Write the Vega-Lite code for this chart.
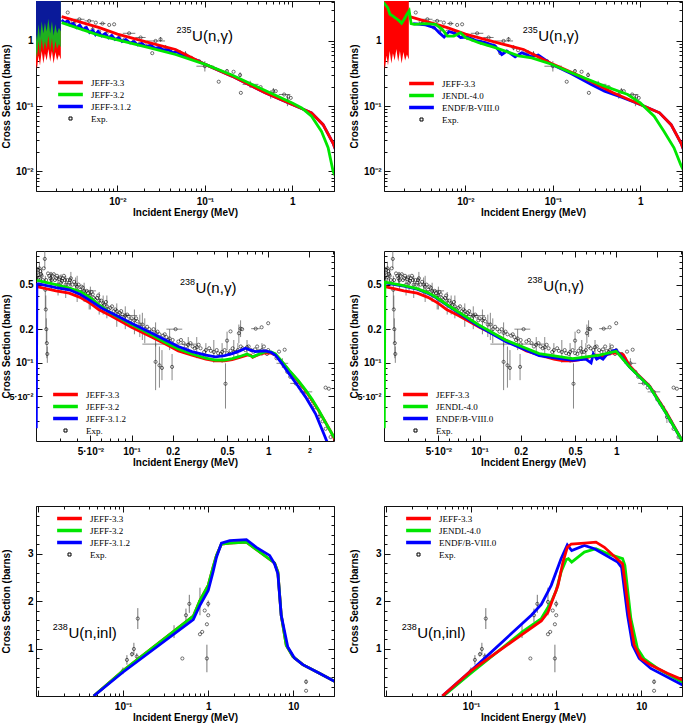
{
"$schema": "https://vega.github.io/schema/vega-lite/v6.json",
"padding": 0,
"background": "white",
"columns": 2,
"spacing": {"row": 32, "column": 13},
"resolve": {"scale": {"color": "independent"}, "legend": {"color": "independent"}},
"config": {
  "view": {"stroke": "#111", "strokeWidth": 1},
  "axis": {"domain": false, "grid": false, "tickColor": "#111", "tickWidth": 1, "labelFont": "Liberation Sans", "labelFontWeight": "bold", "labelFontSize": 10, "labelColor": "#000", "titleFont": "Liberation Sans", "titleFontWeight": "bold", "titleFontSize": 10, "titleColor": "#000", "labelOverlap": false, "labelFlush": false, "labelBound": false},
  "text": {"font": "Liberation Sans", "color": "#000"}
},
"datasets": {
  "p1res": [
    {"e":0.00115,"lo":0.5,"k":"JEFF-3.3"},{"e":0.0012,"lo":0.37,"k":"JEFF-3.3"},{"e":0.00125,"lo":0.6,"k":"JEFF-3.3"},{"e":0.0013,"lo":0.42,"k":"JEFF-3.3"},{"e":0.00136,"lo":0.7,"k":"JEFF-3.3"},{"e":0.00142,"lo":0.45,"k":"JEFF-3.3"},{"e":0.00148,"lo":0.65,"k":"JEFF-3.3"},{"e":0.00155,"lo":0.5,"k":"JEFF-3.3"},{"e":0.00162,"lo":0.75,"k":"JEFF-3.3"},{"e":0.0017,"lo":0.48,"k":"JEFF-3.3"},{"e":0.00178,"lo":0.7,"k":"JEFF-3.3"},{"e":0.00186,"lo":0.45,"k":"JEFF-3.3"},{"e":0.00195,"lo":0.68,"k":"JEFF-3.3"},{"e":0.00204,"lo":0.5,"k":"JEFF-3.3"},{"e":0.00214,"lo":0.62,"k":"JEFF-3.3"},{"e":0.00225,"lo":0.52,"k":"JEFF-3.3"},
    {"e":0.00115,"lo":0.8,"k":"JEFF-3.2"},{"e":0.0012,"lo":0.55,"k":"JEFF-3.2"},{"e":0.00125,"lo":1.0,"k":"JEFF-3.2"},{"e":0.0013,"lo":0.6,"k":"JEFF-3.2"},{"e":0.00136,"lo":1.1,"k":"JEFF-3.2"},{"e":0.00142,"lo":0.7,"k":"JEFF-3.2"},{"e":0.00148,"lo":1.0,"k":"JEFF-3.2"},{"e":0.00155,"lo":0.75,"k":"JEFF-3.2"},{"e":0.00162,"lo":1.2,"k":"JEFF-3.2"},{"e":0.0017,"lo":0.7,"k":"JEFF-3.2"},{"e":0.00178,"lo":1.1,"k":"JEFF-3.2"},{"e":0.00186,"lo":0.65,"k":"JEFF-3.2"},{"e":0.00195,"lo":1.0,"k":"JEFF-3.2"},{"e":0.00204,"lo":0.75,"k":"JEFF-3.2"},{"e":0.00214,"lo":0.9,"k":"JEFF-3.2"},{"e":0.00225,"lo":0.8,"k":"JEFF-3.2"},
    {"e":0.00115,"lo":1.5,"k":"JEFF-3.1.2"},{"e":0.0012,"lo":1.0,"k":"JEFF-3.1.2"},{"e":0.00125,"lo":1.8,"k":"JEFF-3.1.2"},{"e":0.0013,"lo":1.1,"k":"JEFF-3.1.2"},{"e":0.00136,"lo":2.0,"k":"JEFF-3.1.2"},{"e":0.00142,"lo":1.3,"k":"JEFF-3.1.2"},{"e":0.00148,"lo":1.9,"k":"JEFF-3.1.2"},{"e":0.00155,"lo":1.4,"k":"JEFF-3.1.2"},{"e":0.00162,"lo":2.2,"k":"JEFF-3.1.2"},{"e":0.0017,"lo":1.3,"k":"JEFF-3.1.2"},{"e":0.00178,"lo":2.0,"k":"JEFF-3.1.2"},{"e":0.00186,"lo":1.2,"k":"JEFF-3.1.2"},{"e":0.00195,"lo":1.8,"k":"JEFF-3.1.2"},{"e":0.00204,"lo":1.3,"k":"JEFF-3.1.2"},{"e":0.00214,"lo":1.6,"k":"JEFF-3.1.2"},{"e":0.00225,"lo":1.4,"k":"JEFF-3.1.2"}
  ],
  "p1lines": [
    {"e":0.0023,"s":2.1,"k":"JEFF-3.1.2"},{"e":0.0025,"s":1.9,"k":"JEFF-3.1.2"},{"e":0.0027,"s":2.05,"k":"JEFF-3.1.2"},{"e":0.0029,"s":1.75,"k":"JEFF-3.1.2"},{"e":0.0031,"s":1.85,"k":"JEFF-3.1.2"},{"e":0.0034,"s":1.6,"k":"JEFF-3.1.2"},{"e":0.0037,"s":1.75,"k":"JEFF-3.1.2"},{"e":0.004,"s":1.5,"k":"JEFF-3.1.2"},{"e":0.0044,"s":1.6,"k":"JEFF-3.1.2"},{"e":0.0048,"s":1.35,"k":"JEFF-3.1.2"},{"e":0.0052,"s":1.45,"k":"JEFF-3.1.2"},{"e":0.0056,"s":1.25,"k":"JEFF-3.1.2"},{"e":0.006,"s":1.4,"k":"JEFF-3.1.2"},{"e":0.0066,"s":1.2,"k":"JEFF-3.1.2"},{"e":0.0072,"s":1.3,"k":"JEFF-3.1.2"},{"e":0.0079,"s":1.12,"k":"JEFF-3.1.2"},{"e":0.0086,"s":1.22,"k":"JEFF-3.1.2"},{"e":0.0094,"s":1.05,"k":"JEFF-3.1.2"},{"e":0.0103,"s":1.12,"k":"JEFF-3.1.2"},{"e":0.0113,"s":0.98,"k":"JEFF-3.1.2"},{"e":0.0125,"s":1.05,"k":"JEFF-3.1.2"},{"e":0.014,"s":0.93,"k":"JEFF-3.1.2"},{"e":0.0155,"s":0.98,"k":"JEFF-3.1.2"},{"e":0.017,"s":0.87,"k":"JEFF-3.1.2"},{"e":0.019,"s":0.92,"k":"JEFF-3.1.2"},{"e":0.021,"s":0.82,"k":"JEFF-3.1.2"},{"e":0.024,"s":0.86,"k":"JEFF-3.1.2"},{"e":0.027,"s":0.77,"k":"JEFF-3.1.2"},{"e":0.03,"s":0.8,"k":"JEFF-3.1.2"},{"e":0.034,"s":0.72,"k":"JEFF-3.1.2"},{"e":0.038,"s":0.74,"k":"JEFF-3.1.2"},{"e":0.043,"s":0.66,"k":"JEFF-3.1.2"},{"e":0.048,"s":0.68,"k":"JEFF-3.1.2"},{"e":0.055,"s":0.6,"k":"JEFF-3.1.2"},{"e":0.062,"s":0.6,"k":"JEFF-3.1.2"},{"e":0.07,"s":0.54,"k":"JEFF-3.1.2"},{"e":0.08,"s":0.51,"k":"JEFF-3.1.2"},{"e":0.09,"s":0.47,"k":"JEFF-3.1.2"},{"e":0.101,"s":0.437,"k":"JEFF-3.1.2"},{"e":0.204,"s":0.289,"k":"JEFF-3.1.2"},{"e":0.489,"s":0.16,"k":"JEFF-3.1.2"},{"e":1.0,"s":0.106,"k":"JEFF-3.1.2"},{"e":1.66,"s":0.079,"k":"JEFF-3.1.2"},{"e":2.25,"s":0.052,"k":"JEFF-3.1.2"},{"e":2.93,"s":0.027,"k":"JEFF-3.1.2"},{"e":3.1,"s":0.022,"k":"JEFF-3.1.2"},
    {"e":0.0023,"s":2.36,"k":"JEFF-3.3"},{"e":0.0062,"s":1.6,"k":"JEFF-3.3"},{"e":0.01,"s":1.27,"k":"JEFF-3.3"},{"e":0.0229,"s":0.94,"k":"JEFF-3.3"},{"e":0.0462,"s":0.74,"k":"JEFF-3.3"},{"e":0.06,"s":0.62,"k":"JEFF-3.3"},{"e":0.101,"s":0.437,"k":"JEFF-3.3"},{"e":0.204,"s":0.289,"k":"JEFF-3.3"},{"e":0.489,"s":0.16,"k":"JEFF-3.3"},{"e":1.0,"s":0.106,"k":"JEFF-3.3"},{"e":1.66,"s":0.079,"k":"JEFF-3.3"},{"e":2.25,"s":0.052,"k":"JEFF-3.3"},{"e":2.93,"s":0.027,"k":"JEFF-3.3"},{"e":3.1,"s":0.022,"k":"JEFF-3.3"},
    {"e":0.0023,"s":1.91,"k":"JEFF-3.2"},{"e":0.0062,"s":1.22,"k":"JEFF-3.2"},{"e":0.01,"s":1.04,"k":"JEFF-3.2"},{"e":0.0229,"s":0.79,"k":"JEFF-3.2"},{"e":0.0462,"s":0.62,"k":"JEFF-3.2"},{"e":0.101,"s":0.437,"k":"JEFF-3.2"},{"e":0.204,"s":0.3,"k":"JEFF-3.2"},{"e":0.489,"s":0.174,"k":"JEFF-3.2"},{"e":1.0,"s":0.112,"k":"JEFF-3.2"},{"e":1.28,"s":0.094,"k":"JEFF-3.2"},{"e":1.66,"s":0.07,"k":"JEFF-3.2"},{"e":2.16,"s":0.041,"k":"JEFF-3.2"},{"e":2.57,"s":0.023,"k":"JEFF-3.2"},{"e":2.93,"s":0.01,"k":"JEFF-3.2"},{"e":3.1,"s":0.0085,"k":"JEFF-3.2"}
  ],
  "p2lines": [
    {"e":0.00252,"s":1.85,"k":"ENDF/B-VIII.0"},{"e":0.0035,"s":1.76,"k":"ENDF/B-VIII.0"},{"e":0.0044,"s":1.6,"k":"ENDF/B-VIII.0"},{"e":0.005,"s":1.34,"k":"ENDF/B-VIII.0"},{"e":0.0057,"s":1.15,"k":"ENDF/B-VIII.0"},{"e":0.0065,"s":1.39,"k":"ENDF/B-VIII.0"},{"e":0.0077,"s":1.3,"k":"ENDF/B-VIII.0"},{"e":0.0088,"s":1.13,"k":"ENDF/B-VIII.0"},{"e":0.0104,"s":1.15,"k":"ENDF/B-VIII.0"},{"e":0.013,"s":1.02,"k":"ENDF/B-VIII.0"},{"e":0.0169,"s":0.94,"k":"ENDF/B-VIII.0"},{"e":0.0219,"s":0.84,"k":"ENDF/B-VIII.0"},{"e":0.0261,"s":0.62,"k":"ENDF/B-VIII.0"},{"e":0.0297,"s":0.7,"k":"ENDF/B-VIII.0"},{"e":0.037,"s":0.57,"k":"ENDF/B-VIII.0"},{"e":0.044,"s":0.66,"k":"ENDF/B-VIII.0"},{"e":0.0573,"s":0.57,"k":"ENDF/B-VIII.0"},{"e":0.068,"s":0.61,"k":"ENDF/B-VIII.0"},{"e":0.0966,"s":0.44,"k":"ENDF/B-VIII.0"},{"e":0.163,"s":0.315,"k":"ENDF/B-VIII.0"},{"e":0.275,"s":0.215,"k":"ENDF/B-VIII.0"},{"e":0.39,"s":0.17,"k":"ENDF/B-VIII.0"},{"e":0.6,"s":0.138,"k":"ENDF/B-VIII.0"},{"e":1.0,"s":0.106,"k":"ENDF/B-VIII.0"},{"e":1.66,"s":0.079,"k":"ENDF/B-VIII.0"},{"e":2.25,"s":0.052,"k":"ENDF/B-VIII.0"},{"e":2.93,"s":0.027,"k":"ENDF/B-VIII.0"},{"e":3.1,"s":0.022,"k":"ENDF/B-VIII.0"},
    {"e":0.0023,"s":2.36,"k":"JEFF-3.3"},{"e":0.0062,"s":1.6,"k":"JEFF-3.3"},{"e":0.01,"s":1.27,"k":"JEFF-3.3"},{"e":0.0229,"s":0.94,"k":"JEFF-3.3"},{"e":0.0462,"s":0.74,"k":"JEFF-3.3"},{"e":0.06,"s":0.62,"k":"JEFF-3.3"},{"e":0.101,"s":0.437,"k":"JEFF-3.3"},{"e":0.204,"s":0.289,"k":"JEFF-3.3"},{"e":0.489,"s":0.16,"k":"JEFF-3.3"},{"e":1.0,"s":0.106,"k":"JEFF-3.3"},{"e":1.66,"s":0.079,"k":"JEFF-3.3"},{"e":2.25,"s":0.052,"k":"JEFF-3.3"},{"e":2.93,"s":0.027,"k":"JEFF-3.3"},{"e":3.1,"s":0.022,"k":"JEFF-3.3"},
    {"e":0.00115,"s":3.9,"k":"JENDL-4.0"},{"e":0.00129,"s":3.25,"k":"JENDL-4.0"},{"e":0.00137,"s":2.57,"k":"JENDL-4.0"},{"e":0.00147,"s":2.42,"k":"JENDL-4.0"},{"e":0.0016,"s":2.23,"k":"JENDL-4.0"},{"e":0.00175,"s":2.03,"k":"JENDL-4.0"},{"e":0.00186,"s":1.87,"k":"JENDL-4.0"},{"e":0.00199,"s":2.15,"k":"JENDL-4.0"},{"e":0.00214,"s":2.57,"k":"JENDL-4.0"},{"e":0.00227,"s":2.9,"k":"JENDL-4.0"},{"e":0.00239,"s":1.85,"k":"JENDL-4.0"},{"e":0.00259,"s":1.8,"k":"JENDL-4.0"},{"e":0.00351,"s":1.85,"k":"JENDL-4.0"},{"e":0.00456,"s":1.8,"k":"JENDL-4.0"},{"e":0.00543,"s":1.51,"k":"JENDL-4.0"},{"e":0.00619,"s":1.19,"k":"JENDL-4.0"},{"e":0.00736,"s":1.19,"k":"JENDL-4.0"},{"e":0.00877,"s":1.34,"k":"JENDL-4.0"},{"e":0.01,"s":1.13,"k":"JENDL-4.0"},{"e":0.0142,"s":0.94,"k":"JENDL-4.0"},{"e":0.0219,"s":0.79,"k":"JENDL-4.0"},{"e":0.0285,"s":0.7,"k":"JENDL-4.0"},{"e":0.0404,"s":0.59,"k":"JENDL-4.0"},{"e":0.0573,"s":0.55,"k":"JENDL-4.0"},{"e":0.0966,"s":0.44,"k":"JENDL-4.0"},{"e":0.163,"s":0.326,"k":"JENDL-4.0"},{"e":0.39,"s":0.203,"k":"JENDL-4.0"},{"e":0.718,"s":0.151,"k":"JENDL-4.0"},{"e":1.0,"s":0.112,"k":"JENDL-4.0"},{"e":1.44,"s":0.07,"k":"JENDL-4.0"},{"e":1.87,"s":0.041,"k":"JENDL-4.0"},{"e":2.43,"s":0.023,"k":"JENDL-4.0"},{"e":2.9,"s":0.0127,"k":"JENDL-4.0"},{"e":3.1,"s":0.0105,"k":"JENDL-4.0"}
  ],
  "u235exp": [
    {"e":0.0027,"s":2.73},{"e":0.00308,"s":1.98},{"e":0.0032,"s":1.85,"slo":1.7,"shi":2.0},{"e":0.00367,"s":2.15,"elo":0.0032,"ehi":0.0042},{"e":0.00436,"s":1.6},{"e":0.00475,"s":2.03,"elo":0.0042,"ehi":0.0054},{"e":0.0052,"s":1.5,"slo":1.35,"shi":1.65},{"e":0.00566,"s":1.91},{"e":0.00618,"s":1.39},{"e":0.00674,"s":1.85,"elo":0.0062,"ehi":0.0073},{"e":0.0075,"s":1.3,"slo":1.2,"shi":1.42},{"e":0.00804,"s":1.76},{"e":0.00916,"s":1.8},{"e":0.01045,"s":1.13,"slo":1.03,"shi":1.24},{"e":0.012,"s":1.05},{"e":0.0136,"s":1.31,"elo":0.0115,"ehi":0.016},{"e":0.015,"s":0.95,"slo":0.88,"shi":1.03},{"e":0.0177,"s":0.89},{"e":0.0184,"s":1.13,"elo":0.016,"ehi":0.021},{"e":0.021,"s":0.85},{"e":0.025,"s":0.65},{"e":0.0273,"s":1.0,"elo":0.0215,"ehi":0.035},{"e":0.0311,"s":1.06,"slo":0.98,"shi":1.15},{"e":0.0355,"s":0.79,"slo":0.72,"shi":0.86},{"e":0.04,"s":0.72},{"e":0.0473,"s":0.7},{"e":0.052,"s":0.66,"slo":0.6,"shi":0.72},{"e":0.06,"s":0.62,"slo":0.55,"shi":0.7},{"e":0.07,"s":0.55},{"e":0.086,"s":0.49},{"e":0.1,"s":0.41,"elo":0.08,"ehi":0.127,"slo":0.34,"shi":0.49},{"e":0.144,"s":0.237},{"e":0.179,"s":0.345,"slo":0.32,"shi":0.37},{"e":0.213,"s":0.337},{"e":0.253,"s":0.3,"slo":0.28,"shi":0.33},{"e":0.258,"s":0.16},{"e":0.33,"s":0.216,"elo":0.27,"ehi":0.41,"slo":0.19,"shi":0.245},{"e":0.434,"s":0.196},{"e":0.567,"s":0.151,"slo":0.13,"shi":0.175},{"e":0.608,"s":0.17,"slo":0.155,"shi":0.19},{"e":0.647,"s":0.17},{"e":0.807,"s":0.151,"elo":0.7,"ehi":0.95},{"e":0.88,"s":0.12,"slo":0.1,"shi":0.145},{"e":0.9,"s":0.14},{"e":0.96,"s":0.134}
  ],
  "p3lines": [
    {"e":0.0203,"s":0.48,"k":"JEFF-3.3"},{"e":0.028,"s":0.44,"k":"JEFF-3.3"},{"e":0.035,"s":0.42,"k":"JEFF-3.3"},{"e":0.042,"s":0.385,"k":"JEFF-3.3"},{"e":0.05,"s":0.34,"k":"JEFF-3.3"},{"e":0.0574,"s":0.3,"k":"JEFF-3.3"},{"e":0.07,"s":0.265,"k":"JEFF-3.3"},{"e":0.1,"s":0.208,"k":"JEFF-3.3"},{"e":0.14,"s":0.17,"k":"JEFF-3.3"},{"e":0.177,"s":0.147,"k":"JEFF-3.3"},{"e":0.22,"s":0.128,"k":"JEFF-3.3"},{"e":0.277,"s":0.117,"k":"JEFF-3.3"},{"e":0.35,"s":0.108,"k":"JEFF-3.3"},{"e":0.411,"s":0.104,"k":"JEFF-3.3"},{"e":0.48,"s":0.104,"k":"JEFF-3.3"},{"e":0.545,"s":0.107,"k":"JEFF-3.3"},{"e":0.62,"s":0.112,"k":"JEFF-3.3"},{"e":0.7,"s":0.117,"k":"JEFF-3.3"},{"e":0.745,"s":0.117,"k":"JEFF-3.3"},{"e":0.77,"s":0.112,"k":"JEFF-3.3"},{"e":0.807,"s":0.115,"k":"JEFF-3.3"},{"e":0.88,"s":0.12,"k":"JEFF-3.3"},{"e":0.955,"s":0.123,"k":"JEFF-3.3"},{"e":1.05,"s":0.122,"k":"JEFF-3.3"},{"e":1.13,"s":0.118,"k":"JEFF-3.3"},{"e":1.25,"s":0.103,"k":"JEFF-3.3"},{"e":1.42,"s":0.085,"k":"JEFF-3.3"},{"e":1.65,"s":0.069,"k":"JEFF-3.3"},{"e":1.88,"s":0.056,"k":"JEFF-3.3"},{"e":2.1,"s":0.046,"k":"JEFF-3.3"},{"e":2.35,"s":0.037,"k":"JEFF-3.3"},{"e":2.6,"s":0.03,"k":"JEFF-3.3"},{"e":2.94,"s":0.023,"k":"JEFF-3.3"},{"e":3.1,"s":0.02,"k":"JEFF-3.3"},
    {"e":0.0203,"s":0.545,"k":"JEFF-3.2"},{"e":0.028,"s":0.5,"k":"JEFF-3.2"},{"e":0.035,"s":0.465,"k":"JEFF-3.2"},{"e":0.042,"s":0.435,"k":"JEFF-3.2"},{"e":0.0485,"s":0.39,"k":"JEFF-3.2"},{"e":0.057,"s":0.335,"k":"JEFF-3.2"},{"e":0.07,"s":0.28,"k":"JEFF-3.2"},{"e":0.1,"s":0.22,"k":"JEFF-3.2"},{"e":0.14,"s":0.178,"k":"JEFF-3.2"},{"e":0.177,"s":0.152,"k":"JEFF-3.2"},{"e":0.22,"s":0.133,"k":"JEFF-3.2"},{"e":0.277,"s":0.12,"k":"JEFF-3.2"},{"e":0.35,"s":0.11,"k":"JEFF-3.2"},{"e":0.411,"s":0.106,"k":"JEFF-3.2"},{"e":0.48,"s":0.106,"k":"JEFF-3.2"},{"e":0.545,"s":0.109,"k":"JEFF-3.2"},{"e":0.62,"s":0.114,"k":"JEFF-3.2"},{"e":0.7,"s":0.12,"k":"JEFF-3.2"},{"e":0.74,"s":0.116,"k":"JEFF-3.2"},{"e":0.77,"s":0.113,"k":"JEFF-3.2"},{"e":0.807,"s":0.116,"k":"JEFF-3.2"},{"e":0.88,"s":0.121,"k":"JEFF-3.2"},{"e":0.955,"s":0.126,"k":"JEFF-3.2"},{"e":1.05,"s":0.125,"k":"JEFF-3.2"},{"e":1.13,"s":0.12,"k":"JEFF-3.2"},{"e":1.25,"s":0.104,"k":"JEFF-3.2"},{"e":1.42,"s":0.086,"k":"JEFF-3.2"},{"e":1.65,"s":0.07,"k":"JEFF-3.2"},{"e":1.88,"s":0.057,"k":"JEFF-3.2"},{"e":2.1,"s":0.047,"k":"JEFF-3.2"},{"e":2.35,"s":0.0375,"k":"JEFF-3.2"},{"e":2.6,"s":0.03,"k":"JEFF-3.2"},{"e":2.94,"s":0.023,"k":"JEFF-3.2"},{"e":3.1,"s":0.021,"k":"JEFF-3.2"},
    {"e":0.0201,"s":0.026,"k":"JEFF-3.1.2"},{"e":0.0203,"s":0.5,"k":"JEFF-3.1.2"},{"e":0.0207,"s":0.51,"k":"JEFF-3.1.2"},{"e":0.028,"s":0.47,"k":"JEFF-3.1.2"},{"e":0.035,"s":0.45,"k":"JEFF-3.1.2"},{"e":0.042,"s":0.41,"k":"JEFF-3.1.2"},{"e":0.05,"s":0.36,"k":"JEFF-3.1.2"},{"e":0.06,"s":0.31,"k":"JEFF-3.1.2"},{"e":0.075,"s":0.27,"k":"JEFF-3.1.2"},{"e":0.1,"s":0.226,"k":"JEFF-3.1.2"},{"e":0.14,"s":0.185,"k":"JEFF-3.1.2"},{"e":0.177,"s":0.16,"k":"JEFF-3.1.2"},{"e":0.22,"s":0.14,"k":"JEFF-3.1.2"},{"e":0.277,"s":0.126,"k":"JEFF-3.1.2"},{"e":0.35,"s":0.117,"k":"JEFF-3.1.2"},{"e":0.411,"s":0.113,"k":"JEFF-3.1.2"},{"e":0.48,"s":0.116,"k":"JEFF-3.1.2"},{"e":0.545,"s":0.121,"k":"JEFF-3.1.2"},{"e":0.62,"s":0.128,"k":"JEFF-3.1.2"},{"e":0.682,"s":0.135,"k":"JEFF-3.1.2"},{"e":0.74,"s":0.13,"k":"JEFF-3.1.2"},{"e":0.807,"s":0.126,"k":"JEFF-3.1.2"},{"e":0.88,"s":0.127,"k":"JEFF-3.1.2"},{"e":0.955,"s":0.128,"k":"JEFF-3.1.2"},{"e":1.05,"s":0.124,"k":"JEFF-3.1.2"},{"e":1.13,"s":0.117,"k":"JEFF-3.1.2"},{"e":1.25,"s":0.1,"k":"JEFF-3.1.2"},{"e":1.42,"s":0.08,"k":"JEFF-3.1.2"},{"e":1.65,"s":0.062,"k":"JEFF-3.1.2"},{"e":1.88,"s":0.0494,"k":"JEFF-3.1.2"},{"e":2.22,"s":0.035,"k":"JEFF-3.1.2"},{"e":2.56,"s":0.023,"k":"JEFF-3.1.2"},{"e":2.8,"s":0.0175,"k":"JEFF-3.1.2"},{"e":3.05,"s":0.013,"k":"JEFF-3.1.2"}
  ],
  "p4lines": [
    {"e":0.0203,"s":0.48,"k":"JEFF-3.3"},{"e":0.028,"s":0.44,"k":"JEFF-3.3"},{"e":0.035,"s":0.42,"k":"JEFF-3.3"},{"e":0.042,"s":0.385,"k":"JEFF-3.3"},{"e":0.05,"s":0.34,"k":"JEFF-3.3"},{"e":0.0574,"s":0.3,"k":"JEFF-3.3"},{"e":0.07,"s":0.265,"k":"JEFF-3.3"},{"e":0.1,"s":0.208,"k":"JEFF-3.3"},{"e":0.14,"s":0.17,"k":"JEFF-3.3"},{"e":0.177,"s":0.147,"k":"JEFF-3.3"},{"e":0.22,"s":0.128,"k":"JEFF-3.3"},{"e":0.277,"s":0.117,"k":"JEFF-3.3"},{"e":0.35,"s":0.108,"k":"JEFF-3.3"},{"e":0.411,"s":0.104,"k":"JEFF-3.3"},{"e":0.48,"s":0.104,"k":"JEFF-3.3"},{"e":0.545,"s":0.107,"k":"JEFF-3.3"},{"e":0.62,"s":0.112,"k":"JEFF-3.3"},{"e":0.7,"s":0.117,"k":"JEFF-3.3"},{"e":0.745,"s":0.117,"k":"JEFF-3.3"},{"e":0.77,"s":0.112,"k":"JEFF-3.3"},{"e":0.807,"s":0.115,"k":"JEFF-3.3"},{"e":0.88,"s":0.12,"k":"JEFF-3.3"},{"e":0.955,"s":0.123,"k":"JEFF-3.3"},{"e":1.05,"s":0.122,"k":"JEFF-3.3"},{"e":1.13,"s":0.118,"k":"JEFF-3.3"},{"e":1.25,"s":0.095,"k":"JEFF-3.3"},{"e":1.42,"s":0.08,"k":"JEFF-3.3"},{"e":1.76,"s":0.062,"k":"JEFF-3.3"},{"e":2.33,"s":0.036,"k":"JEFF-3.3"},{"e":3.09,"s":0.0194,"k":"JEFF-3.3"},
    {"e":0.0203,"s":0.52,"k":"ENDF/B-VIII.0"},{"e":0.028,"s":0.485,"k":"ENDF/B-VIII.0"},{"e":0.035,"s":0.455,"k":"ENDF/B-VIII.0"},{"e":0.0424,"s":0.415,"k":"ENDF/B-VIII.0"},{"e":0.0475,"s":0.385,"k":"ENDF/B-VIII.0"},{"e":0.0595,"s":0.32,"k":"ENDF/B-VIII.0"},{"e":0.0989,"s":0.212,"k":"ENDF/B-VIII.0"},{"e":0.155,"s":0.155,"k":"ENDF/B-VIII.0"},{"e":0.273,"s":0.116,"k":"ENDF/B-VIII.0"},{"e":0.48,"s":0.105,"k":"ENDF/B-VIII.0"},{"e":0.6,"s":0.108,"k":"ENDF/B-VIII.0"},{"e":0.655,"s":0.1,"k":"ENDF/B-VIII.0"},{"e":0.68,"s":0.12,"k":"ENDF/B-VIII.0"},{"e":0.72,"s":0.108,"k":"ENDF/B-VIII.0"},{"e":0.76,"s":0.112,"k":"ENDF/B-VIII.0"},{"e":0.8,"s":0.108,"k":"ENDF/B-VIII.0"},{"e":0.85,"s":0.118,"k":"ENDF/B-VIII.0"},{"e":0.9,"s":0.122,"k":"ENDF/B-VIII.0"},{"e":0.95,"s":0.128,"k":"ENDF/B-VIII.0"},{"e":1.0,"s":0.13,"k":"ENDF/B-VIII.0"},{"e":1.25,"s":0.092,"k":"ENDF/B-VIII.0"},{"e":1.76,"s":0.061,"k":"ENDF/B-VIII.0"},{"e":2.33,"s":0.035,"k":"ENDF/B-VIII.0"},{"e":3.09,"s":0.0194,"k":"ENDF/B-VIII.0"},
    {"e":0.0201,"s":0.026,"k":"JENDL-4.0"},{"e":0.0203,"s":0.526,"k":"JENDL-4.0"},{"e":0.028,"s":0.49,"k":"JENDL-4.0"},{"e":0.035,"s":0.46,"k":"JENDL-4.0"},{"e":0.0424,"s":0.42,"k":"JENDL-4.0"},{"e":0.0475,"s":0.39,"k":"JENDL-4.0"},{"e":0.0595,"s":0.324,"k":"JENDL-4.0"},{"e":0.0989,"s":0.218,"k":"JENDL-4.0"},{"e":0.155,"s":0.16,"k":"JENDL-4.0"},{"e":0.273,"s":0.121,"k":"JENDL-4.0"},{"e":0.48,"s":0.109,"k":"JENDL-4.0"},{"e":0.754,"s":0.117,"k":"JENDL-4.0"},{"e":1.0,"s":0.127,"k":"JENDL-4.0"},{"e":1.25,"s":0.092,"k":"JENDL-4.0"},{"e":1.76,"s":0.061,"k":"JENDL-4.0"},{"e":2.33,"s":0.035,"k":"JENDL-4.0"},{"e":3.09,"s":0.0194,"k":"JENDL-4.0"}
  ],
  "u238gexp": [
    {"e":0.0205,"s":0.64,"slo":0.55,"shi":0.72},{"e":0.021,"s":0.58},{"e":0.0215,"s":0.66},{"e":0.022,"s":0.6,"slo":0.5,"shi":0.7},{"e":0.0228,"s":0.7},{"e":0.0232,"s":0.85,"slo":0.7,"shi":1.0},{"e":0.0234,"s":0.45,"slo":0.3,"shi":0.6},{"e":0.0236,"s":0.3,"slo":0.2,"shi":0.4},{"e":0.0237,"s":0.55},{"e":0.0238,"s":0.2,"slo":0.15,"shi":0.25},{"e":0.024,"s":0.15,"slo":0.11,"shi":0.2},{"e":0.0242,"s":0.12,"slo":0.1,"shi":0.14},{"e":0.025,"s":0.6},{"e":0.026,"s":0.55,"slo":0.45,"shi":0.65},{"e":0.027,"s":0.62},{"e":0.028,"s":0.57},{"e":0.029,"s":0.5,"slo":0.4,"shi":0.6},{"e":0.03,"s":0.58},{"e":0.031,"s":0.54},{"e":0.032,"s":0.6},{"e":0.033,"s":0.5,"slo":0.38,"shi":0.6},{"e":0.034,"s":0.55},{"e":0.035,"s":0.52},{"e":0.036,"s":0.57,"slo":0.45,"shi":0.65},{"e":0.037,"s":0.5},{"e":0.038,"s":0.53},{"e":0.04,"s":0.48,"slo":0.35,"shi":0.6},{"e":0.041,"s":0.5},{"e":0.042,"s":0.45},{"e":0.043,"s":0.48},{"e":0.045,"s":0.44,"slo":0.35,"shi":0.52,"elo":0.04,"ehi":0.055},{"e":0.046,"s":0.41},{"e":0.048,"s":0.42},{"e":0.05,"s":0.4,"slo":0.3,"shi":0.48},{"e":0.052,"s":0.41},{"e":0.054,"s":0.37},{"e":0.056,"s":0.38},{"e":0.058,"s":0.36,"slo":0.27,"shi":0.43},{"e":0.06,"s":0.36},{"e":0.063,"s":0.33},{"e":0.066,"s":0.32,"slo":0.25,"shi":0.4},{"e":0.07,"s":0.31},{"e":0.074,"s":0.29},{"e":0.078,"s":0.29,"slo":0.21,"shi":0.34},{"e":0.082,"s":0.28},{"e":0.086,"s":0.27},{"e":0.09,"s":0.265,"slo":0.2,"shi":0.32,"elo":0.075,"ehi":0.11},{"e":0.095,"s":0.26},{"e":0.1,"s":0.25},{"e":0.105,"s":0.24,"slo":0.18,"shi":0.3},{"e":0.11,"s":0.235},{"e":0.12,"s":0.22,"slo":0.16,"shi":0.28},{"e":0.125,"s":0.2,"slo":0.15,"shi":0.25},{"e":0.13,"s":0.21},{"e":0.14,"s":0.19},{"e":0.15,"s":0.185,"slo":0.14,"shi":0.23},{"e":0.16,"s":0.18},{"e":0.17,"s":0.175},{"e":0.18,"s":0.17},{"e":0.19,"s":0.165,"slo":0.13,"shi":0.2},{"e":0.2,"s":0.16},{"e":0.21,"s":0.2,"elo":0.18,"ehi":0.235},{"e":0.22,"s":0.155},{"e":0.24,"s":0.15},{"e":0.26,"s":0.145,"slo":0.12,"shi":0.17},{"e":0.28,"s":0.14},{"e":0.3,"s":0.138,"slo":0.11,"shi":0.17},{"e":0.32,"s":0.135},{"e":0.35,"s":0.13,"slo":0.11,"shi":0.15},{"e":0.38,"s":0.128},{"e":0.4,"s":0.125,"slo":0.1,"shi":0.16},{"e":0.43,"s":0.122},{"e":0.46,"s":0.125,"slo":0.1,"shi":0.15},{"e":0.5,"s":0.122},{"e":0.53,"s":0.128},{"e":0.56,"s":0.125,"slo":0.11,"shi":0.16},{"e":0.6,"s":0.13,"slo":0.11,"shi":0.15},{"e":0.65,"s":0.135},{"e":0.7,"s":0.138,"slo":0.12,"shi":0.16},{"e":0.75,"s":0.13},{"e":0.8,"s":0.132},{"e":0.85,"s":0.128},{"e":0.9,"s":0.13,"slo":0.115,"shi":0.15},{"e":0.95,"s":0.127},{"e":1.0,"s":0.13},
    {"e":0.0208,"s":0.56},{"e":0.0212,"s":0.7,"slo":0.6,"shi":0.8},{"e":0.0218,"s":0.62},{"e":0.0224,"s":0.55},{"e":0.0245,"s":0.63},{"e":0.0255,"s":0.57,"slo":0.5,"shi":0.65},{"e":0.0265,"s":0.6},{"e":0.0275,"s":0.55},{"e":0.0285,"s":0.6},{"e":0.0295,"s":0.56},{"e":0.0305,"s":0.52,"slo":0.42,"shi":0.62},{"e":0.0315,"s":0.57},{"e":0.0325,"s":0.55},{"e":0.0345,"s":0.5},{"e":0.0355,"s":0.55},{"e":0.039,"s":0.5,"slo":0.4,"shi":0.58},{"e":0.044,"s":0.47},{"e":0.047,"s":0.44},{"e":0.049,"s":0.38,"slo":0.3,"shi":0.45},{"e":0.051,"s":0.43},{"e":0.053,"s":0.38},{"e":0.057,"s":0.4},{"e":0.062,"s":0.34,"slo":0.27,"shi":0.4},{"e":0.065,"s":0.35},{"e":0.068,"s":0.3},{"e":0.072,"s":0.32},{"e":0.076,"s":0.3},{"e":0.08,"s":0.27},{"e":0.084,"s":0.29},{"e":0.088,"s":0.25},{"e":0.093,"s":0.27},{"e":0.098,"s":0.24},{"e":0.108,"s":0.25},{"e":0.115,"s":0.22,"slo":0.17,"shi":0.27},{"e":0.135,"s":0.2},{"e":0.145,"s":0.2},{"e":0.155,"s":0.19},{"e":0.175,"s":0.18},{"e":0.185,"s":0.16},{"e":0.23,"s":0.16},{"e":0.25,"s":0.14},{"e":0.27,"s":0.15},{"e":0.29,"s":0.135},{"e":0.31,"s":0.145},{"e":0.34,"s":0.125},{"e":0.37,"s":0.135},{"e":0.42,"s":0.13},{"e":0.45,"s":0.12},{"e":0.48,"s":0.13},{"e":0.52,"s":0.12},{"e":0.55,"s":0.135},{"e":0.58,"s":0.125},{"e":0.63,"s":0.14},{"e":0.68,"s":0.13},{"e":0.72,"s":0.14},{"e":0.78,"s":0.125},{"e":0.83,"s":0.14},{"e":0.88,"s":0.125},{"e":0.93,"s":0.14},{"e":0.98,"s":0.12},
    {"e":0.15,"s":0.102,"slo":0.057,"shi":0.149},{"e":0.16,"s":0.095,"slo":0.06,"shi":0.14},{"e":0.167,"s":0.09,"slo":0.07,"shi":0.13},{"e":0.198,"s":0.092,"slo":0.07,"shi":0.12},{"e":0.2,"s":0.147,"elo":0.12,"ehi":0.3},{"e":0.487,"s":0.065,"slo":0.039,"shi":0.099},{"e":0.5,"s":0.158,"slo":0.13,"shi":0.19},{"e":0.53,"s":0.191},{"e":0.61,"s":0.184,"slo":0.15,"shi":0.22},{"e":0.628,"s":0.202,"slo":0.17,"shi":0.24},{"e":0.645,"s":0.2},{"e":0.81,"s":0.202,"elo":0.75,"ehi":0.87},{"e":0.895,"s":0.208},{"e":1.0,"s":0.226},{"e":1.1,"s":0.12},{"e":1.15,"s":0.11},{"e":1.2,"s":0.126},{"e":1.32,"s":0.131},{"e":1.27,"s":0.099,"slo":0.09,"shi":0.11,"elo":1.15,"ehi":1.4},{"e":1.38,"s":0.083},{"e":1.45,"s":0.075},{"e":1.59,"s":0.0655,"elo":1.45,"ehi":1.75},{"e":1.7,"s":0.06},{"e":1.88,"s":0.055,"elo":1.7,"ehi":2.1},{"e":2.0,"s":0.047},{"e":2.1,"s":0.0433},{"e":2.2,"s":0.04},{"e":2.35,"s":0.0328,"slo":0.029,"shi":0.037},{"e":2.5,"s":0.03},{"e":2.63,"s":0.0257},{"e":2.63,"s":0.06},{"e":2.78,"s":0.0587},{"e":2.86,"s":0.0217}
  ],
  "p5lines": [
    {"e":0.0452,"s":0,"k":"JEFF-3.3"},{"e":0.0996,"s":0.53,"k":"JEFF-3.3"},{"e":0.668,"s":1.68,"k":"JEFF-3.3"},{"e":0.799,"s":2.01,"k":"JEFF-3.3"},{"e":1.0,"s":2.33,"k":"JEFF-3.3"},{"e":1.14,"s":2.71,"k":"JEFF-3.3"},{"e":1.25,"s":2.96,"k":"JEFF-3.3"},{"e":1.43,"s":3.2,"k":"JEFF-3.3"},{"e":1.79,"s":3.22,"k":"JEFF-3.3"},{"e":2.81,"s":3.24,"k":"JEFF-3.3"},{"e":6.02,"s":2.8,"k":"JEFF-3.3"},{"e":6.58,"s":2.61,"k":"JEFF-3.3"},{"e":7.2,"s":1.7,"k":"JEFF-3.3"},{"e":8.25,"s":1.07,"k":"JEFF-3.3"},{"e":9.88,"s":0.83,"k":"JEFF-3.3"},{"e":12.9,"s":0.66,"k":"JEFF-3.3"},{"e":20.2,"s":0.48,"k":"JEFF-3.3"},{"e":30.4,"s":0.31,"k":"JEFF-3.3"},
    {"e":0.0452,"s":0,"k":"JEFF-3.2"},{"e":0.0996,"s":0.53,"k":"JEFF-3.2"},{"e":0.668,"s":1.68,"k":"JEFF-3.2"},{"e":0.799,"s":2.01,"k":"JEFF-3.2"},{"e":1.0,"s":2.33,"k":"JEFF-3.2"},{"e":1.14,"s":2.71,"k":"JEFF-3.2"},{"e":1.25,"s":2.96,"k":"JEFF-3.2"},{"e":1.43,"s":3.2,"k":"JEFF-3.2"},{"e":1.79,"s":3.22,"k":"JEFF-3.2"},{"e":2.81,"s":3.24,"k":"JEFF-3.2"},{"e":6.02,"s":2.8,"k":"JEFF-3.2"},{"e":6.58,"s":2.61,"k":"JEFF-3.2"},{"e":7.2,"s":1.7,"k":"JEFF-3.2"},{"e":8.25,"s":1.07,"k":"JEFF-3.2"},{"e":9.88,"s":0.83,"k":"JEFF-3.2"},{"e":12.9,"s":0.66,"k":"JEFF-3.2"},{"e":20.2,"s":0.48,"k":"JEFF-3.2"},{"e":30.4,"s":0.31,"k":"JEFF-3.2"},
    {"e":0.0452,"s":0,"k":"JEFF-3.1.2"},{"e":0.0996,"s":0.5,"k":"JEFF-3.1.2"},{"e":0.668,"s":1.61,"k":"JEFF-3.1.2"},{"e":0.799,"s":1.91,"k":"JEFF-3.1.2"},{"e":1.0,"s":2.22,"k":"JEFF-3.1.2"},{"e":1.14,"s":2.61,"k":"JEFF-3.1.2"},{"e":1.25,"s":2.92,"k":"JEFF-3.1.2"},{"e":1.43,"s":3.22,"k":"JEFF-3.1.2"},{"e":1.79,"s":3.27,"k":"JEFF-3.1.2"},{"e":2.81,"s":3.29,"k":"JEFF-3.1.2"},{"e":3.68,"s":3.13,"k":"JEFF-3.1.2"},{"e":5.26,"s":2.96,"k":"JEFF-3.1.2"},{"e":6.02,"s":2.78,"k":"JEFF-3.1.2"},{"e":6.58,"s":2.57,"k":"JEFF-3.1.2"},{"e":7.2,"s":1.7,"k":"JEFF-3.1.2"},{"e":8.6,"s":1.03,"k":"JEFF-3.1.2"},{"e":10.3,"s":0.8,"k":"JEFF-3.1.2"},{"e":12.9,"s":0.66,"k":"JEFF-3.1.2"},{"e":20.2,"s":0.48,"k":"JEFF-3.1.2"},{"e":30.4,"s":0.31,"k":"JEFF-3.1.2"}
  ],
  "p6lines": [
    {"e":0.0474,"s":0,"k":"JENDL-4.0"},{"e":0.0996,"s":0.48,"k":"JENDL-4.0"},{"e":0.407,"s":1.36,"k":"JENDL-4.0"},{"e":0.668,"s":1.63,"k":"JENDL-4.0"},{"e":0.874,"s":1.98,"k":"JENDL-4.0"},{"e":1.0,"s":2.22,"k":"JENDL-4.0"},{"e":1.14,"s":2.61,"k":"JENDL-4.0"},{"e":1.31,"s":2.87,"k":"JENDL-4.0"},{"e":1.39,"s":2.89,"k":"JENDL-4.0"},{"e":1.52,"s":2.82,"k":"JENDL-4.0"},{"e":2.14,"s":3.03,"k":"JENDL-4.0"},{"e":2.93,"s":3.1,"k":"JENDL-4.0"},{"e":4.4,"s":2.97,"k":"JENDL-4.0"},{"e":6.02,"s":2.89,"k":"JENDL-4.0"},{"e":6.4,"s":2.75,"k":"JENDL-4.0"},{"e":7.53,"s":1.63,"k":"JENDL-4.0"},{"e":9.0,"s":1.0,"k":"JENDL-4.0"},{"e":10.8,"s":0.78,"k":"JENDL-4.0"},{"e":15.5,"s":0.58,"k":"JENDL-4.0"},{"e":30.4,"s":0.29,"k":"JENDL-4.0"},
    {"e":0.046,"s":0,"k":"ENDF/B-VIII.0"},{"e":0.0996,"s":0.53,"k":"ENDF/B-VIII.0"},{"e":0.51,"s":1.7,"k":"ENDF/B-VIII.0"},{"e":0.668,"s":1.93,"k":"ENDF/B-VIII.0"},{"e":0.874,"s":2.33,"k":"ENDF/B-VIII.0"},{"e":1.14,"s":2.89,"k":"ENDF/B-VIII.0"},{"e":1.35,"s":3.18,"k":"ENDF/B-VIII.0"},{"e":1.52,"s":3.06,"k":"ENDF/B-VIII.0"},{"e":2.14,"s":3.17,"k":"ENDF/B-VIII.0"},{"e":2.81,"s":3.1,"k":"ENDF/B-VIII.0"},{"e":5.26,"s":2.82,"k":"ENDF/B-VIII.0"},{"e":5.86,"s":2.71,"k":"ENDF/B-VIII.0"},{"e":6.89,"s":1.7,"k":"ENDF/B-VIII.0"},{"e":7.88,"s":1.07,"k":"ENDF/B-VIII.0"},{"e":9.43,"s":0.79,"k":"ENDF/B-VIII.0"},{"e":12.9,"s":0.58,"k":"ENDF/B-VIII.0"},{"e":30.4,"s":0.23,"k":"ENDF/B-VIII.0"},
    {"e":0.046,"s":0,"k":"JEFF-3.3"},{"e":0.0996,"s":0.53,"k":"JEFF-3.3"},{"e":0.407,"s":1.31,"k":"JEFF-3.3"},{"e":0.668,"s":1.58,"k":"JEFF-3.3"},{"e":0.799,"s":1.76,"k":"JEFF-3.3"},{"e":1.05,"s":2.33,"k":"JEFF-3.3"},{"e":1.2,"s":2.82,"k":"JEFF-3.3"},{"e":1.35,"s":3.13,"k":"JEFF-3.3"},{"e":1.5,"s":3.2,"k":"JEFF-3.3"},{"e":2.15,"s":3.22,"k":"JEFF-3.3"},{"e":2.93,"s":3.24,"k":"JEFF-3.3"},{"e":3.68,"s":3.13,"k":"JEFF-3.3"},{"e":6.02,"s":2.78,"k":"JEFF-3.3"},{"e":7.2,"s":1.7,"k":"JEFF-3.3"},{"e":8.25,"s":1.07,"k":"JEFF-3.3"},{"e":9.88,"s":0.79,"k":"JEFF-3.3"},{"e":12.9,"s":0.65,"k":"JEFF-3.3"},{"e":20.2,"s":0.48,"k":"JEFF-3.3"},{"e":30.4,"s":0.34,"k":"JEFF-3.3"}
  ],
  "u238iexp": [
    {"e":0.0996,"s":0.53,"slo":0.46,"shi":0.6},{"e":0.111,"s":0.76,"slo":0.66,"shi":0.86},{"e":0.127,"s":0.88,"slo":0.83,"shi":0.93},{"e":0.134,"s":0.99,"slo":0.86,"shi":1.12},{"e":0.145,"s":0.83,"slo":0.76,"shi":0.9},{"e":0.149,"s":1.63,"slo":1.41,"shi":1.85},{"e":0.397,"s":1.33,"slo":1.22,"shi":1.49},{"e":0.497,"s":0.79},{"e":0.548,"s":1.7,"slo":1.56,"shi":1.84},{"e":0.6,"s":1.94,"slo":1.75,"shi":2.13},{"e":0.8,"s":1.3},{"e":0.85,"s":1.35},{"e":0.8,"s":1.98,"slo":1.7,"shi":2.28},{"e":0.91,"s":1.8},{"e":0.965,"s":1.51},{"e":0.965,"s":0.79,"slo":0.5,"shi":1.08},{"e":1.0,"s":1.94,"slo":1.87,"shi":2.01},{"e":1.0,"s":1.7},{"e":14.1,"s":0.3,"slo":0.25,"shi":0.35},{"e":14.1,"s":0.11}
  ]
},
"concat": [
  {
    "width": 298, "height": 190,
    "resolve": {"axis": {"x": "independent", "y": "independent"}},
    "layer": [
      {"data": {"name": "p1res"}, "transform": [{"filter": "datum.k === 'JEFF-3.3'"}], "mark": {"type": "area", "color": "#ff0000", "clip": true},
       "encoding": {"x": {"field": "e", "type": "quantitative", "scale": {"type": "log", "domain": [0.00117, 3], "nice": false}, "axis": null}, "y": {"field": "lo", "type": "quantitative", "scale": {"type": "log", "domain": [0.005, 4.1], "nice": false}, "axis": null}, "y2": {"datum": 10}}},
      {"data": {"name": "p1res"}, "transform": [{"filter": "datum.k === 'JEFF-3.2'"}], "mark": {"type": "area", "color": "#1fb01f", "clip": true},
       "encoding": {"x": {"field": "e", "type": "quantitative", "scale": {"type": "log", "domain": [0.00117, 3], "nice": false}, "axis": null}, "y": {"field": "lo", "type": "quantitative", "scale": {"type": "log", "domain": [0.005, 4.1], "nice": false}, "axis": null}, "y2": {"datum": 10}}},
      {"data": {"name": "p1res"}, "transform": [{"filter": "datum.k === 'JEFF-3.1.2'"}], "mark": {"type": "area", "color": "#0a1a9a", "clip": true},
       "encoding": {"x": {"field": "e", "type": "quantitative", "scale": {"type": "log", "domain": [0.00117, 3], "nice": false}, "axis": null}, "y": {"field": "lo", "type": "quantitative", "scale": {"type": "log", "domain": [0.005, 4.1], "nice": false}, "axis": null}, "y2": {"datum": 10}}},
      {"data": {"name": "u235exp"}, "transform": [{"filter": "isValid(datum.slo)"}], "mark": {"type": "rule", "color": "#444", "strokeWidth": 0.7, "clip": true},
       "encoding": {"x": {"field": "e", "type": "quantitative", "scale": {"type": "log", "domain": [0.00117, 3], "nice": false}, "axis": {"orient": "top", "values": [0.002,0.003,0.004,0.005,0.006,0.007,0.008,0.009,0.02,0.03,0.04,0.05,0.06,0.07,0.08,0.09,0.2,0.3,0.4,0.5,0.6,0.7,0.8,0.9,2,3], "labels": false, "tickSize": -3, "title": null}},
                    "y": {"field": "slo", "type": "quantitative", "scale": {"type": "log", "domain": [0.005, 4.1], "nice": false}, "axis": {"orient": "right", "values": [0.005,0.006,0.007,0.008,0.009,0.02,0.03,0.04,0.05,0.06,0.07,0.08,0.09,0.2,0.3,0.4,0.5,0.6,0.7,0.8,0.9,2,3,4], "labels": false, "tickSize": -3, "title": null}},
                    "y2": {"field": "shi"}}},
      {"data": {"name": "u235exp"}, "transform": [{"filter": "isValid(datum.elo)"}], "mark": {"type": "rule", "color": "#444", "strokeWidth": 0.7, "clip": true},
       "encoding": {"x": {"field": "elo", "type": "quantitative", "scale": {"type": "log", "domain": [0.00117, 3], "nice": false}, "axis": {"orient": "top", "values": [0.01, 0.1, 1], "labels": false, "tickSize": -6, "title": null}},
                    "x2": {"field": "ehi"},
                    "y": {"field": "s", "type": "quantitative", "scale": {"type": "log", "domain": [0.005, 4.1], "nice": false}, "axis": {"orient": "right", "values": [0.01, 0.1, 1], "labels": false, "tickSize": -6, "title": null}}}},
      {"data": {"name": "u235exp"}, "mark": {"type": "point", "shape": "circle", "filled": false, "size": 10, "strokeWidth": 0.8, "clip": true},
       "encoding": {"x": {"field": "e", "type": "quantitative", "scale": {"type": "log", "domain": [0.00117, 3], "nice": false}, "axis": {"orient": "bottom", "values": [0.002,0.003,0.004,0.005,0.006,0.007,0.008,0.009,0.02,0.03,0.04,0.05,0.06,0.07,0.08,0.09,0.2,0.3,0.4,0.5,0.6,0.7,0.8,0.9,2,3], "labels": false, "tickSize": -3, "title": null}},
                    "y": {"field": "s", "type": "quantitative", "scale": {"type": "log", "domain": [0.005, 4.1], "nice": false}, "axis": {"orient": "left", "values": [0.005,0.006,0.007,0.008,0.009,0.02,0.03,0.04,0.05,0.06,0.07,0.08,0.09,0.2,0.3,0.4,0.5,0.6,0.7,0.8,0.9,2,3,4], "labels": false, "tickSize": -3, "title": null}},
                    "color": {"datum": "Exp.", "type": "nominal"}}},
      {"data": {"name": "p1lines"}, "mark": {"type": "line", "strokeWidth": 2.8, "clip": true},
       "encoding": {"x": {"field": "e", "type": "quantitative", "scale": {"type": "log", "domain": [0.00117, 3], "nice": false}, "axis": {"orient": "bottom", "values": [0.01, 0.1, 1], "labelExpr": "datum.value < 0.05 ? '10⁻²' : datum.value < 0.5 ? '10⁻¹' : '1'", "tickSize": -6, "labelPadding": 11, "title": "Incident Energy (MeV)", "titlePadding": 1}},
                    "y": {"field": "s", "type": "quantitative", "scale": {"type": "log", "domain": [0.005, 4.1], "nice": false}, "axis": {"orient": "left", "values": [0.01, 0.1, 1], "labelExpr": "datum.value < 0.05 ? '10⁻²' : datum.value < 0.5 ? '10⁻¹' : '1'", "tickSize": -6, "labelPadding": 9, "title": "Cross Section (barns)", "titlePadding": 2, "minExtent": 23, "maxExtent": 23}},
                    "color": {"field": "k", "type": "nominal", "scale": {"domain": ["JEFF-3.3", "JEFF-3.2", "JEFF-3.1.2", "Exp."], "range": ["#ff0000", "#00e600", "#0000ff", "#000000"]},
                              "legend": {"orient": "none", "legendX": 20, "legendY": 77, "title": null, "symbolType": "M-6,0H6", "symbolSize": 17, "symbolStrokeWidth": 3.5, "symbolOffset": 10, "labelOffset": 16, "labelFont": "Liberation Serif", "labelFontSize": 9, "labelColor": "#000", "rowPadding": -8, "padding": 0,
                                         "encode": {"symbols": {"update": {"shape": {"signal": "datum.value === 'Exp.' ? 'square' : 'M-6,0H6'"}, "size": {"signal": "datum.value === 'Exp.' ? 9 : 17"}, "strokeWidth": {"signal": "datum.value === 'Exp.' ? 1 : 3.5"}, "fill": {"value": "transparent"}, "opacity": {"value": 1}}}}}}}},
      {"data": {"values": [{}]}, "mark": {"type": "text", "text": "235", "fontSize": 9, "align": "right", "baseline": "middle", "dy": -6, "dx": -0.5},
       "encoding": {"x": {"datum": 0.0714, "type": "quantitative", "scale": {"type": "log", "domain": [0.00117, 3], "nice": false}, "axis": null}, "y": {"datum": 1.19, "type": "quantitative", "scale": {"type": "log", "domain": [0.005, 4.1], "nice": false}, "axis": null}}},
      {"data": {"values": [{}]}, "mark": {"type": "text", "text": "U(n,γ)", "fontSize": 15, "align": "left", "baseline": "middle"},
       "encoding": {"x": {"datum": 0.0714, "type": "quantitative", "scale": {"type": "log", "domain": [0.00117, 3], "nice": false}, "axis": null}, "y": {"datum": 1.19, "type": "quantitative", "scale": {"type": "log", "domain": [0.005, 4.1], "nice": false}, "axis": null}}}
    ]
  },
  {
    "width": 298, "height": 190,
    "resolve": {"axis": {"x": "independent", "y": "independent"}},
    "layer": [
      {"data": {"name": "p1res"}, "transform": [{"filter": "datum.k === 'JEFF-3.3'"}], "mark": {"type": "area", "color": "#ff0000", "clip": true},
       "encoding": {"x": {"field": "e", "type": "quantitative", "scale": {"type": "log", "domain": [0.00117, 3], "nice": false}, "axis": null}, "y": {"field": "lo", "type": "quantitative", "scale": {"type": "log", "domain": [0.005, 4.1], "nice": false}, "axis": null}, "y2": {"datum": 10}}},
      {"data": {"name": "u235exp"}, "transform": [{"filter": "isValid(datum.slo)"}], "mark": {"type": "rule", "color": "#444", "strokeWidth": 0.7, "clip": true},
       "encoding": {"x": {"field": "e", "type": "quantitative", "scale": {"type": "log", "domain": [0.00117, 3], "nice": false}, "axis": {"orient": "top", "values": [0.002,0.003,0.004,0.005,0.006,0.007,0.008,0.009,0.02,0.03,0.04,0.05,0.06,0.07,0.08,0.09,0.2,0.3,0.4,0.5,0.6,0.7,0.8,0.9,2,3], "labels": false, "tickSize": -3, "title": null}},
                    "y": {"field": "slo", "type": "quantitative", "scale": {"type": "log", "domain": [0.005, 4.1], "nice": false}, "axis": {"orient": "right", "values": [0.005,0.006,0.007,0.008,0.009,0.02,0.03,0.04,0.05,0.06,0.07,0.08,0.09,0.2,0.3,0.4,0.5,0.6,0.7,0.8,0.9,2,3,4], "labels": false, "tickSize": -3, "title": null}},
                    "y2": {"field": "shi"}}},
      {"data": {"name": "u235exp"}, "transform": [{"filter": "isValid(datum.elo)"}], "mark": {"type": "rule", "color": "#444", "strokeWidth": 0.7, "clip": true},
       "encoding": {"x": {"field": "elo", "type": "quantitative", "scale": {"type": "log", "domain": [0.00117, 3], "nice": false}, "axis": {"orient": "top", "values": [0.01, 0.1, 1], "labels": false, "tickSize": -6, "title": null}},
                    "x2": {"field": "ehi"},
                    "y": {"field": "s", "type": "quantitative", "scale": {"type": "log", "domain": [0.005, 4.1], "nice": false}, "axis": {"orient": "right", "values": [0.01, 0.1, 1], "labels": false, "tickSize": -6, "title": null}}}},
      {"data": {"name": "u235exp"}, "mark": {"type": "point", "shape": "circle", "filled": false, "size": 10, "strokeWidth": 0.8, "clip": true},
       "encoding": {"x": {"field": "e", "type": "quantitative", "scale": {"type": "log", "domain": [0.00117, 3], "nice": false}, "axis": {"orient": "bottom", "values": [0.002,0.003,0.004,0.005,0.006,0.007,0.008,0.009,0.02,0.03,0.04,0.05,0.06,0.07,0.08,0.09,0.2,0.3,0.4,0.5,0.6,0.7,0.8,0.9,2,3], "labels": false, "tickSize": -3, "title": null}},
                    "y": {"field": "s", "type": "quantitative", "scale": {"type": "log", "domain": [0.005, 4.1], "nice": false}, "axis": {"orient": "left", "values": [0.005,0.006,0.007,0.008,0.009,0.02,0.03,0.04,0.05,0.06,0.07,0.08,0.09,0.2,0.3,0.4,0.5,0.6,0.7,0.8,0.9,2,3,4], "labels": false, "tickSize": -3, "title": null}},
                    "color": {"datum": "Exp.", "type": "nominal"}}},
      {"data": {"name": "p2lines"}, "mark": {"type": "line", "strokeWidth": 2.8, "clip": true},
       "encoding": {"x": {"field": "e", "type": "quantitative", "scale": {"type": "log", "domain": [0.00117, 3], "nice": false}, "axis": {"orient": "bottom", "values": [0.01, 0.1, 1], "labelExpr": "datum.value < 0.05 ? '10⁻²' : datum.value < 0.5 ? '10⁻¹' : '1'", "tickSize": -6, "labelPadding": 11, "title": "Incident Energy (MeV)", "titlePadding": 1}},
                    "y": {"field": "s", "type": "quantitative", "scale": {"type": "log", "domain": [0.005, 4.1], "nice": false}, "axis": {"orient": "left", "values": [0.01, 0.1, 1], "labelExpr": "datum.value < 0.05 ? '10⁻²' : datum.value < 0.5 ? '10⁻¹' : '1'", "tickSize": -6, "labelPadding": 9, "title": "Cross Section (barns)", "titlePadding": 2, "minExtent": 23, "maxExtent": 23}},
                    "color": {"field": "k", "type": "nominal", "scale": {"domain": ["JEFF-3.3", "JENDL-4.0", "ENDF/B-VIII.0", "Exp."], "range": ["#ff0000", "#00e600", "#0000ff", "#000000"]},
                              "legend": {"orient": "none", "legendX": 23, "legendY": 78, "title": null, "symbolType": "M-6,0H6", "symbolSize": 17, "symbolStrokeWidth": 3.5, "symbolOffset": 10, "labelOffset": 16, "labelFont": "Liberation Serif", "labelFontSize": 9, "labelColor": "#000", "rowPadding": -8, "padding": 0,
                                         "encode": {"symbols": {"update": {"shape": {"signal": "datum.value === 'Exp.' ? 'square' : 'M-6,0H6'"}, "size": {"signal": "datum.value === 'Exp.' ? 9 : 17"}, "strokeWidth": {"signal": "datum.value === 'Exp.' ? 1 : 3.5"}, "fill": {"value": "transparent"}, "opacity": {"value": 1}}}}}}}},
      {"data": {"values": [{}]}, "mark": {"type": "text", "text": "235", "fontSize": 9, "align": "right", "baseline": "middle", "dy": -6, "dx": -0.5},
       "encoding": {"x": {"datum": 0.068, "type": "quantitative", "scale": {"type": "log", "domain": [0.00117, 3], "nice": false}, "axis": null}, "y": {"datum": 1.19, "type": "quantitative", "scale": {"type": "log", "domain": [0.005, 4.1], "nice": false}, "axis": null}}},
      {"data": {"values": [{}]}, "mark": {"type": "text", "text": "U(n,γ)", "fontSize": 15, "align": "left", "baseline": "middle"},
       "encoding": {"x": {"datum": 0.068, "type": "quantitative", "scale": {"type": "log", "domain": [0.00117, 3], "nice": false}, "axis": null}, "y": {"datum": 1.19, "type": "quantitative", "scale": {"type": "log", "domain": [0.005, 4.1], "nice": false}, "axis": null}}}
    ]
  },
  {
    "width": 298, "height": 190,
    "resolve": {"axis": {"x": "independent", "y": "independent"}},
    "layer": [
      {"data": {"name": "u238gexp"}, "transform": [{"filter": "isValid(datum.slo)"}], "mark": {"type": "rule", "color": "#555", "strokeWidth": 0.7, "clip": true},
       "encoding": {"x": {"field": "e", "type": "quantitative", "scale": {"type": "log", "domain": [0.02, 3.03], "nice": false}, "axis": {"orient": "top", "values": [0.03,0.04,0.06,0.07,0.08,0.09,0.3,0.4,0.6,0.7,0.8,0.9,3], "labels": false, "tickSize": -3, "title": null}},
                    "y": {"field": "slo", "type": "quantitative", "scale": {"type": "log", "domain": [0.02, 1], "nice": false}, "axis": {"orient": "right", "values": [0.03,0.04,0.06,0.07,0.08,0.09,0.3,0.4,0.6,0.7,0.8,0.9], "labels": false, "tickSize": -3, "title": null}},
                    "y2": {"field": "shi"}}},
      {"data": {"name": "u238gexp"}, "transform": [{"filter": "isValid(datum.elo)"}], "mark": {"type": "rule", "color": "#555", "strokeWidth": 0.7, "clip": true},
       "encoding": {"x": {"field": "elo", "type": "quantitative", "scale": {"type": "log", "domain": [0.02, 3.03], "nice": false}, "axis": {"orient": "top", "values": [0.05, 0.1, 0.2, 0.5, 1, 2], "labels": false, "tickSize": -6, "title": null}},
                    "x2": {"field": "ehi"},
                    "y": {"field": "s", "type": "quantitative", "scale": {"type": "log", "domain": [0.02, 1], "nice": false}, "axis": {"orient": "right", "values": [0.05, 0.1, 0.2, 0.5], "labels": false, "tickSize": -6, "title": null}}}},
      {"data": {"name": "u238gexp"}, "mark": {"type": "point", "shape": "circle", "filled": false, "size": 10, "strokeWidth": 0.8, "clip": true},
       "encoding": {"x": {"field": "e", "type": "quantitative", "scale": {"type": "log", "domain": [0.02, 3.03], "nice": false}, "axis": {"orient": "bottom", "values": [0.03,0.04,0.06,0.07,0.08,0.09,0.3,0.4,0.6,0.7,0.8,0.9,3], "labels": false, "tickSize": -3, "title": null}},
                    "y": {"field": "s", "type": "quantitative", "scale": {"type": "log", "domain": [0.02, 1], "nice": false}, "axis": {"orient": "left", "values": [0.03,0.04,0.06,0.07,0.08,0.09,0.3,0.4,0.6,0.7,0.8,0.9], "labels": false, "tickSize": -3, "title": null}},
                    "color": {"datum": "Exp.", "type": "nominal"}}},
      {"data": {"name": "p3lines"}, "mark": {"type": "line", "strokeWidth": 2.8, "clip": true},
       "encoding": {"x": {"field": "e", "type": "quantitative", "scale": {"type": "log", "domain": [0.02, 3.03], "nice": false}, "axis": {"orient": "bottom", "values": [0.05, 0.1, 0.2, 0.5, 1, 2], "labelExpr": "datum.value < 0.07 ? '5·10⁻²' : datum.value < 0.15 ? '10⁻¹' : datum.value < 0.3 ? '0.2' : datum.value < 0.7 ? '0.5' : datum.value < 1.5 ? '1' : '2'", "labelFontSize": {"condition": {"test": "datum.value > 1.5", "value": 7}, "value": 10}, "tickSize": -6, "labelPadding": 11, "title": "Incident Energy (MeV)", "titlePadding": 1}},
                    "y": {"field": "s", "type": "quantitative", "scale": {"type": "log", "domain": [0.02, 1], "nice": false}, "axis": {"orient": "left", "values": [0.05, 0.1, 0.2, 0.5], "labelExpr": "datum.value < 0.07 ? '5·10⁻²' : datum.value < 0.15 ? '10⁻¹' : datum.value < 0.3 ? '0.2' : '0.5'", "labelFontSize": {"condition": {"test": "datum.value < 0.07", "value": 9}, "value": 10}, "tickSize": -6, "labelPadding": 9, "title": "Cross Section (barns)", "titlePadding": 2, "minExtent": 23, "maxExtent": 23}},
                    "color": {"field": "k", "type": "nominal", "scale": {"domain": ["JEFF-3.3", "JEFF-3.2", "JEFF-3.1.2", "Exp."], "range": ["#ff0000", "#00e600", "#0000ff", "#000000"]},
                              "legend": {"orient": "none", "legendX": 15, "legendY": 139, "title": null, "symbolType": "M-6,0H6", "symbolSize": 17, "symbolStrokeWidth": 3.5, "symbolOffset": 10, "labelOffset": 16, "labelFont": "Liberation Serif", "labelFontSize": 9, "labelColor": "#000", "rowPadding": -8, "padding": 0,
                                         "encode": {"symbols": {"update": {"shape": {"signal": "datum.value === 'Exp.' ? 'square' : 'M-6,0H6'"}, "size": {"signal": "datum.value === 'Exp.' ? 9 : 17"}, "strokeWidth": {"signal": "datum.value === 'Exp.' ? 1 : 3.5"}, "fill": {"value": "transparent"}, "opacity": {"value": 1}}}}}}}},
      {"data": {"values": [{}]}, "mark": {"type": "text", "text": "238", "fontSize": 9, "align": "right", "baseline": "middle", "dy": -6, "dx": -0.5},
       "encoding": {"x": {"datum": 0.294, "type": "quantitative", "scale": {"type": "log", "domain": [0.02, 3.03], "nice": false}, "axis": null}, "y": {"datum": 0.468, "type": "quantitative", "scale": {"type": "log", "domain": [0.02, 1], "nice": false}, "axis": null}}},
      {"data": {"values": [{}]}, "mark": {"type": "text", "text": "U(n,γ)", "fontSize": 15, "align": "left", "baseline": "middle"},
       "encoding": {"x": {"datum": 0.294, "type": "quantitative", "scale": {"type": "log", "domain": [0.02, 3.03], "nice": false}, "axis": null}, "y": {"datum": 0.468, "type": "quantitative", "scale": {"type": "log", "domain": [0.02, 1], "nice": false}, "axis": null}}}
    ]
  },
  {
    "width": 298, "height": 190,
    "resolve": {"axis": {"x": "independent", "y": "independent"}},
    "layer": [
      {"data": {"name": "u238gexp"}, "transform": [{"filter": "isValid(datum.slo)"}], "mark": {"type": "rule", "color": "#555", "strokeWidth": 0.7, "clip": true},
       "encoding": {"x": {"field": "e", "type": "quantitative", "scale": {"type": "log", "domain": [0.02, 3.03], "nice": false}, "axis": {"orient": "top", "values": [0.03,0.04,0.06,0.07,0.08,0.09,0.3,0.4,0.6,0.7,0.8,0.9,3], "labels": false, "tickSize": -3, "title": null}},
                    "y": {"field": "slo", "type": "quantitative", "scale": {"type": "log", "domain": [0.02, 1], "nice": false}, "axis": {"orient": "right", "values": [0.03,0.04,0.06,0.07,0.08,0.09,0.3,0.4,0.6,0.7,0.8,0.9], "labels": false, "tickSize": -3, "title": null}},
                    "y2": {"field": "shi"}}},
      {"data": {"name": "u238gexp"}, "transform": [{"filter": "isValid(datum.elo)"}], "mark": {"type": "rule", "color": "#555", "strokeWidth": 0.7, "clip": true},
       "encoding": {"x": {"field": "elo", "type": "quantitative", "scale": {"type": "log", "domain": [0.02, 3.03], "nice": false}, "axis": {"orient": "top", "values": [0.05, 0.1, 0.2, 0.5, 1, 2], "labels": false, "tickSize": -6, "title": null}},
                    "x2": {"field": "ehi"},
                    "y": {"field": "s", "type": "quantitative", "scale": {"type": "log", "domain": [0.02, 1], "nice": false}, "axis": {"orient": "right", "values": [0.05, 0.1, 0.2, 0.5], "labels": false, "tickSize": -6, "title": null}}}},
      {"data": {"name": "u238gexp"}, "mark": {"type": "point", "shape": "circle", "filled": false, "size": 10, "strokeWidth": 0.8, "clip": true},
       "encoding": {"x": {"field": "e", "type": "quantitative", "scale": {"type": "log", "domain": [0.02, 3.03], "nice": false}, "axis": {"orient": "bottom", "values": [0.03,0.04,0.06,0.07,0.08,0.09,0.3,0.4,0.6,0.7,0.8,0.9,3], "labels": false, "tickSize": -3, "title": null}},
                    "y": {"field": "s", "type": "quantitative", "scale": {"type": "log", "domain": [0.02, 1], "nice": false}, "axis": {"orient": "left", "values": [0.03,0.04,0.06,0.07,0.08,0.09,0.3,0.4,0.6,0.7,0.8,0.9], "labels": false, "tickSize": -3, "title": null}},
                    "color": {"datum": "Exp.", "type": "nominal"}}},
      {"data": {"name": "p4lines"}, "mark": {"type": "line", "strokeWidth": 2.8, "clip": true},
       "encoding": {"x": {"field": "e", "type": "quantitative", "scale": {"type": "log", "domain": [0.02, 3.03], "nice": false}, "axis": {"orient": "bottom", "values": [0.05, 0.1, 0.2, 0.5, 1, 2], "labelExpr": "datum.value < 0.07 ? '5·10⁻²' : datum.value < 0.15 ? '10⁻¹' : datum.value < 0.3 ? '0.2' : datum.value < 0.7 ? '0.5' : datum.value < 1.5 ? '1' : ''", "tickSize": -6, "labelPadding": 11, "title": "Incident Energy (MeV)", "titlePadding": 1}},
                    "y": {"field": "s", "type": "quantitative", "scale": {"type": "log", "domain": [0.02, 1], "nice": false}, "axis": {"orient": "left", "values": [0.05, 0.1, 0.2, 0.5], "labelExpr": "datum.value < 0.07 ? '5·10⁻²' : datum.value < 0.15 ? '10⁻¹' : datum.value < 0.3 ? '0.2' : '0.5'", "labelFontSize": {"condition": {"test": "datum.value < 0.07", "value": 9}, "value": 10}, "tickSize": -6, "labelPadding": 9, "title": "Cross Section (barns)", "titlePadding": 2, "minExtent": 23, "maxExtent": 23}},
                    "color": {"field": "k", "type": "nominal", "scale": {"domain": ["JEFF-3.3", "JENDL-4.0", "ENDF/B-VIII.0", "Exp."], "range": ["#ff0000", "#00e600", "#0000ff", "#000000"]},
                              "legend": {"orient": "none", "legendX": 17, "legendY": 139, "title": null, "symbolType": "M-6,0H6", "symbolSize": 17, "symbolStrokeWidth": 3.5, "symbolOffset": 10, "labelOffset": 16, "labelFont": "Liberation Serif", "labelFontSize": 9, "labelColor": "#000", "rowPadding": -8, "padding": 0,
                                         "encode": {"symbols": {"update": {"shape": {"signal": "datum.value === 'Exp.' ? 'square' : 'M-6,0H6'"}, "size": {"signal": "datum.value === 'Exp.' ? 9 : 17"}, "strokeWidth": {"signal": "datum.value === 'Exp.' ? 1 : 3.5"}, "fill": {"value": "transparent"}, "opacity": {"value": 1}}}}}}}},
      {"data": {"values": [{}]}, "mark": {"type": "text", "text": "238", "fontSize": 9, "align": "right", "baseline": "middle", "dy": -6, "dx": -0.5},
       "encoding": {"x": {"datum": 0.292, "type": "quantitative", "scale": {"type": "log", "domain": [0.02, 3.03], "nice": false}, "axis": null}, "y": {"datum": 0.484, "type": "quantitative", "scale": {"type": "log", "domain": [0.02, 1], "nice": false}, "axis": null}}},
      {"data": {"values": [{}]}, "mark": {"type": "text", "text": "U(n,γ)", "fontSize": 15, "align": "left", "baseline": "middle"},
       "encoding": {"x": {"datum": 0.292, "type": "quantitative", "scale": {"type": "log", "domain": [0.02, 3.03], "nice": false}, "axis": null}, "y": {"datum": 0.484, "type": "quantitative", "scale": {"type": "log", "domain": [0.02, 1], "nice": false}, "axis": null}}}
    ]
  },
  {
    "width": 298, "height": 190,
    "resolve": {"axis": {"x": "independent", "y": "independent"}},
    "layer": [
      {"data": {"name": "u238iexp"}, "transform": [{"filter": "isValid(datum.slo)"}], "mark": {"type": "rule", "color": "#555", "strokeWidth": 0.8, "clip": true},
       "encoding": {"x": {"field": "e", "type": "quantitative", "scale": {"type": "log", "domain": [0.0095, 30], "nice": false}, "axis": {"orient": "top", "values": [0.02,0.03,0.04,0.05,0.06,0.07,0.08,0.09,0.2,0.3,0.4,0.5,0.6,0.7,0.8,0.9,2,3,4,5,6,7,8,9,20,30], "labels": false, "tickSize": -3, "title": null}},
                    "y": {"field": "slo", "type": "quantitative", "scale": {"type": "linear", "domain": [0, 4], "nice": false, "zero": false}, "axis": {"orient": "right", "values": [0.2,0.4,0.6,0.8,1.2,1.4,1.6,1.8,2.2,2.4,2.6,2.8,3.2,3.4,3.6,3.8], "labels": false, "tickSize": -3, "title": null}},
                    "y2": {"field": "shi"}}},
      {"data": {"name": "u238iexp"}, "mark": {"type": "point", "shape": "circle", "filled": false, "size": 10, "strokeWidth": 0.8, "clip": true},
       "encoding": {"x": {"field": "e", "type": "quantitative", "scale": {"type": "log", "domain": [0.0095, 30], "nice": false}, "axis": {"orient": "top", "values": [0.01, 0.1, 1, 10], "labels": false, "tickSize": -6, "title": null}},
                    "y": {"field": "s", "type": "quantitative", "scale": {"type": "linear", "domain": [0, 4], "nice": false, "zero": false}, "axis": {"orient": "right", "values": [0, 1, 2, 3, 4], "labels": false, "tickSize": -6, "title": null}},
                    "color": {"datum": "Exp.", "type": "nominal"}}},
      {"data": {"name": "u238iexp"}, "mark": {"type": "point", "shape": "circle", "filled": false, "size": 10, "strokeWidth": 0.8, "clip": true, "opacity": 0},
       "encoding": {"x": {"field": "e", "type": "quantitative", "scale": {"type": "log", "domain": [0.0095, 30], "nice": false}, "axis": {"orient": "bottom", "values": [0.02,0.03,0.04,0.05,0.06,0.07,0.08,0.09,0.2,0.3,0.4,0.5,0.6,0.7,0.8,0.9,2,3,4,5,6,7,8,9,20,30], "labels": false, "tickSize": -3, "title": null}},
                    "y": {"field": "s", "type": "quantitative", "scale": {"type": "linear", "domain": [0, 4], "nice": false, "zero": false}, "axis": {"orient": "left", "values": [0.2,0.4,0.6,0.8,1.2,1.4,1.6,1.8,2.2,2.4,2.6,2.8,3.2,3.4,3.6,3.8], "labels": false, "tickSize": -3, "title": null}}}},
      {"data": {"name": "p5lines"}, "mark": {"type": "line", "strokeWidth": 2.8, "clip": true},
       "encoding": {"x": {"field": "e", "type": "quantitative", "scale": {"type": "log", "domain": [0.0095, 30], "nice": false}, "axis": {"orient": "bottom", "values": [0.01, 0.1, 1, 10], "labelExpr": "datum.value < 0.05 ? '' : datum.value < 0.5 ? '10⁻¹' : datum.value < 5 ? '1' : '10'", "tickSize": -6, "labelPadding": 11, "title": "Incident Energy (MeV)", "titlePadding": 1}},
                    "y": {"field": "s", "type": "quantitative", "scale": {"type": "linear", "domain": [0, 4], "nice": false, "zero": false}, "axis": {"orient": "left", "values": [0, 1, 2, 3, 4], "labelExpr": "datum.value > 0.5 && datum.value < 3.5 ? format(datum.value, 'd') : ''", "tickSize": -6, "labelPadding": 9, "title": "Cross Section (barns)", "titlePadding": 2, "minExtent": 23, "maxExtent": 23}},
                    "color": {"field": "k", "type": "nominal", "scale": {"domain": ["JEFF-3.3", "JEFF-3.2", "JEFF-3.1.2", "Exp."], "range": ["#ff0000", "#00e600", "#0000ff", "#000000"]},
                              "legend": {"orient": "none", "legendX": 19, "legendY": 8, "title": null, "symbolType": "M-6,0H6", "symbolSize": 17, "symbolStrokeWidth": 3.5, "symbolOffset": 10, "labelOffset": 16, "labelFont": "Liberation Serif", "labelFontSize": 9, "labelColor": "#000", "rowPadding": -8, "padding": 0,
                                         "encode": {"symbols": {"update": {"shape": {"signal": "datum.value === 'Exp.' ? 'square' : 'M-6,0H6'"}, "size": {"signal": "datum.value === 'Exp.' ? 9 : 17"}, "strokeWidth": {"signal": "datum.value === 'Exp.' ? 1 : 3.5"}, "fill": {"value": "transparent"}, "opacity": {"value": 1}}}}}}}},
      {"data": {"values": [{}]}, "mark": {"type": "text", "text": "238", "fontSize": 9, "align": "right", "baseline": "middle", "dy": -6, "dx": -0.5},
       "encoding": {"x": {"datum": 0.0228, "type": "quantitative", "scale": {"type": "log", "domain": [0.0095, 30], "nice": false}, "axis": null}, "y": {"datum": 1.33, "type": "quantitative", "scale": {"type": "linear", "domain": [0, 4], "nice": false, "zero": false}, "axis": null}}},
      {"data": {"values": [{}]}, "mark": {"type": "text", "text": "U(n,inl)", "fontSize": 15, "align": "left", "baseline": "middle"},
       "encoding": {"x": {"datum": 0.0228, "type": "quantitative", "scale": {"type": "log", "domain": [0.0095, 30], "nice": false}, "axis": null}, "y": {"datum": 1.33, "type": "quantitative", "scale": {"type": "linear", "domain": [0, 4], "nice": false, "zero": false}, "axis": null}}}
    ]
  },
  {
    "width": 298, "height": 190,
    "resolve": {"axis": {"x": "independent", "y": "independent"}},
    "layer": [
      {"data": {"name": "u238iexp"}, "transform": [{"filter": "isValid(datum.slo)"}], "mark": {"type": "rule", "color": "#555", "strokeWidth": 0.8, "clip": true},
       "encoding": {"x": {"field": "e", "type": "quantitative", "scale": {"type": "log", "domain": [0.0095, 30], "nice": false}, "axis": {"orient": "top", "values": [0.02,0.03,0.04,0.05,0.06,0.07,0.08,0.09,0.2,0.3,0.4,0.5,0.6,0.7,0.8,0.9,2,3,4,5,6,7,8,9,20,30], "labels": false, "tickSize": -3, "title": null}},
                    "y": {"field": "slo", "type": "quantitative", "scale": {"type": "linear", "domain": [0, 4], "nice": false, "zero": false}, "axis": {"orient": "right", "values": [0.2,0.4,0.6,0.8,1.2,1.4,1.6,1.8,2.2,2.4,2.6,2.8,3.2,3.4,3.6,3.8], "labels": false, "tickSize": -3, "title": null}},
                    "y2": {"field": "shi"}}},
      {"data": {"name": "u238iexp"}, "mark": {"type": "point", "shape": "circle", "filled": false, "size": 10, "strokeWidth": 0.8, "clip": true},
       "encoding": {"x": {"field": "e", "type": "quantitative", "scale": {"type": "log", "domain": [0.0095, 30], "nice": false}, "axis": {"orient": "top", "values": [0.01, 0.1, 1, 10], "labels": false, "tickSize": -6, "title": null}},
                    "y": {"field": "s", "type": "quantitative", "scale": {"type": "linear", "domain": [0, 4], "nice": false, "zero": false}, "axis": {"orient": "right", "values": [0, 1, 2, 3, 4], "labels": false, "tickSize": -6, "title": null}},
                    "color": {"datum": "Exp.", "type": "nominal"}}},
      {"data": {"name": "u238iexp"}, "mark": {"type": "point", "shape": "circle", "filled": false, "size": 10, "strokeWidth": 0.8, "clip": true, "opacity": 0},
       "encoding": {"x": {"field": "e", "type": "quantitative", "scale": {"type": "log", "domain": [0.0095, 30], "nice": false}, "axis": {"orient": "bottom", "values": [0.02,0.03,0.04,0.05,0.06,0.07,0.08,0.09,0.2,0.3,0.4,0.5,0.6,0.7,0.8,0.9,2,3,4,5,6,7,8,9,20,30], "labels": false, "tickSize": -3, "title": null}},
                    "y": {"field": "s", "type": "quantitative", "scale": {"type": "linear", "domain": [0, 4], "nice": false, "zero": false}, "axis": {"orient": "left", "values": [0.2,0.4,0.6,0.8,1.2,1.4,1.6,1.8,2.2,2.4,2.6,2.8,3.2,3.4,3.6,3.8], "labels": false, "tickSize": -3, "title": null}}}},
      {"data": {"name": "p6lines"}, "mark": {"type": "line", "strokeWidth": 2.8, "clip": true},
       "encoding": {"x": {"field": "e", "type": "quantitative", "scale": {"type": "log", "domain": [0.0095, 30], "nice": false}, "axis": {"orient": "bottom", "values": [0.01, 0.1, 1, 10], "labelExpr": "datum.value < 0.05 ? '' : datum.value < 0.5 ? '10⁻¹' : datum.value < 5 ? '1' : '10'", "tickSize": -6, "labelPadding": 11, "title": "Incident Energy (MeV)", "titlePadding": 1}},
                    "y": {"field": "s", "type": "quantitative", "scale": {"type": "linear", "domain": [0, 4], "nice": false, "zero": false}, "axis": {"orient": "left", "values": [0, 1, 2, 3, 4], "labelExpr": "datum.value > 0.5 && datum.value < 3.5 ? format(datum.value, 'd') : ''", "tickSize": -6, "labelPadding": 9, "title": "Cross Section (barns)", "titlePadding": 2, "minExtent": 23, "maxExtent": 23}},
                    "color": {"field": "k", "type": "nominal", "scale": {"domain": ["JEFF-3.3", "JENDL-4.0", "ENDF/B-VIII.0", "Exp."], "range": ["#ff0000", "#00e600", "#0000ff", "#000000"]},
                              "legend": {"orient": "none", "legendX": 20, "legendY": 8, "title": null, "symbolType": "M-6,0H6", "symbolSize": 17, "symbolStrokeWidth": 3.5, "symbolOffset": 10, "labelOffset": 16, "labelFont": "Liberation Serif", "labelFontSize": 9, "labelColor": "#000", "rowPadding": -8, "padding": 0,
                                         "encode": {"symbols": {"update": {"shape": {"signal": "datum.value === 'Exp.' ? 'square' : 'M-6,0H6'"}, "size": {"signal": "datum.value === 'Exp.' ? 9 : 17"}, "strokeWidth": {"signal": "datum.value === 'Exp.' ? 1 : 3.5"}, "fill": {"value": "transparent"}, "opacity": {"value": 1}}}}}}}},
      {"data": {"values": [{}]}, "mark": {"type": "text", "text": "238", "fontSize": 9, "align": "right", "baseline": "middle", "dy": -6, "dx": -0.5},
       "encoding": {"x": {"datum": 0.0233, "type": "quantitative", "scale": {"type": "log", "domain": [0.0095, 30], "nice": false}, "axis": null}, "y": {"datum": 1.33, "type": "quantitative", "scale": {"type": "linear", "domain": [0, 4], "nice": false, "zero": false}, "axis": null}}},
      {"data": {"values": [{}]}, "mark": {"type": "text", "text": "U(n,inl)", "fontSize": 15, "align": "left", "baseline": "middle"},
       "encoding": {"x": {"datum": 0.0233, "type": "quantitative", "scale": {"type": "log", "domain": [0.0095, 30], "nice": false}, "axis": null}, "y": {"datum": 1.33, "type": "quantitative", "scale": {"type": "linear", "domain": [0, 4], "nice": false, "zero": false}, "axis": null}}}
    ]
  }
]
}
